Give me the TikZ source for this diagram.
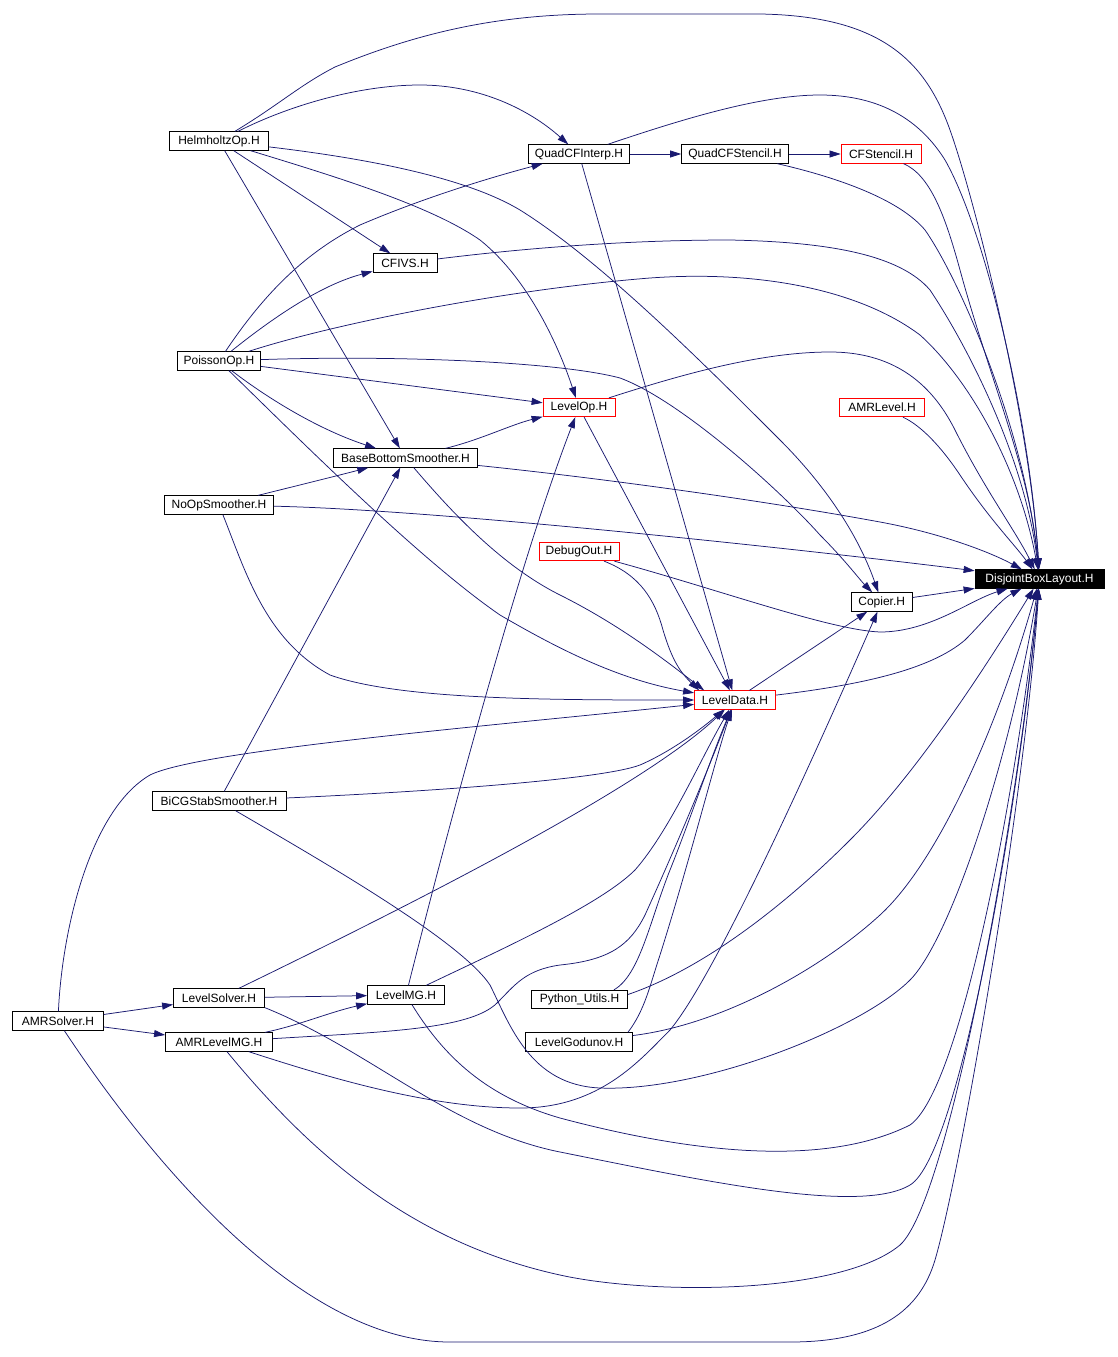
\documentclass[tikz,border=0pt]{standalone}
\usepackage{fontspec}
\setmainfont{Liberation Sans}
\usepackage{xcolor}
\usepackage{tikz}
\usetikzlibrary{arrows.meta}
\definecolor{edgeblue}{RGB}{25,25,112}

\begin{document}
\begin{tikzpicture}[
  x=1pt, y=-1pt,
  file/.style={draw, rectangle, inner sep=0pt, minimum height=18.5pt, line width=0.8pt, font=\fontsize{12}{14}\selectfont},
  incl/.style={draw=edgeblue, line width=0.75pt, -{Triangle[length=11pt,width=7pt]}}
]
\fill[white] (0,0) rectangle (1117,1357);
\useasboundingbox (0,0) rectangle (1117,1357);
\foreach \id/\x/\y/\w/\col/\lab in {
  helm/219/141/99/black/HelmholtzOp.H,
  quad/579/154/101/black/QuadCFInterp.H,
  qstencil/735/154/107/black/QuadCFStencil.H,
  cfstencil/881/154/80/red/CFStencil.H,
  cfivs/405/263/64/black/CFIVS.H,
  poisson/219/361/83/black/PoissonOp.H,
  levelop/579/407.5/72/red/LevelOp.H,
  amrlevel/882/407.5/85/red/AMRLevel.H,
  bbs/405.5/458/144/black/BaseBottomSmoother.H,
  noop/219/505/109/black/NoOpSmoother.H,
  debugout/579/551.5/80/red/DebugOut.H,
  copier/881.7/602/61/black/Copier.H,
  leveldata/735/700/81/red/LevelData.H,
  bicg/219/801/134/black/BiCGStabSmoother.H,
  lsolver/219/998/91/black/LevelSolver.H,
  levelmg/406/995/77/black/LevelMG.H,
  python/579.5/999.5/96/black/Python\_Utils.H,
  amrsolver/58/1021/91/black/AMRSolver.H,
  amrlvlmg/219/1042/107/black/AMRLevelMG.H,
  godunov/579/1042/107/black/LevelGodunov.H} {
  \node[file, draw=\col, minimum width=\w pt] (\id) at (\x,\y) {\lab};
}
\node[file, fill=black, text=white, minimum width=129pt] (dbl) at (1039.5,579) {DisjointBoxLayout.H};

\draw[incl] (helm) .. controls (280,104) and (300,85) .. (335,67) .. controls (420,32) and (500,14) .. (600,14) -- (760,14) .. controls (880,16) and (925,60) .. (950,130) .. controls (975,200) and (1030,420) .. (dbl);
\draw[incl] (helm) .. controls (290,105) and (360,85) .. (420,85) .. controls (480,85) and (530,110) .. (quad);
\draw[incl] (helm) -- (cfivs);
\draw[incl] (helm) .. controls (330,175) and (430,205) .. (480,240) .. controls (530,280) and (560,350) .. (levelop);
\draw[incl] (helm) -- (bbs);
\draw[incl] (helm) .. controls (380,160) and (470,180) .. (520,210) .. controls (600,260) and (700,360) .. (780,440) .. controls (830,490) and (860,540) .. (copier);
\draw[incl] (quad) -- (qstencil);
\draw[incl] (qstencil) -- (cfstencil);
\draw[incl] (quad) .. controls (680,120) and (760,95) .. (820,95) .. controls (880,95) and (920,120) .. (945,160) .. controls (985,230) and (1030,420) .. (dbl);
\draw[incl] (quad) -- (leveldata);
\draw[incl] (qstencil) .. controls (840,178) and (900,200) .. (925,230) .. controls (960,280) and (1025,430) .. (dbl);
\draw[incl] (cfstencil) .. controls (930,175) and (945,215) .. (960,270) .. controls (990,380) and (1030,470) .. (dbl);
\draw[incl] (cfivs) .. controls (550,245) and (650,240) .. (730,240) .. controls (830,242) and (900,255) .. (930,290) .. controls (970,350) and (1025,460) .. (dbl);
\draw[incl] (poisson) .. controls (260,300) and (300,255) .. (360,225) .. controls (430,195) and (500,175) .. (quad);
\draw[incl] (poisson) .. controls (270,320) and (320,285) .. (cfivs);
\draw[incl] (poisson) .. controls (330,325) and (500,290) .. (650,278) .. controls (760,270) and (860,290) .. (920,335) .. controls (970,380) and (1020,470) .. (dbl);
\draw[incl] (poisson) -- (levelop);
\draw[incl] (poisson) .. controls (270,400) and (320,430) .. (bbs);
\draw[incl] (poisson) .. controls (400,355) and (560,362) .. (620,378) .. controls (680,400) and (780,490) .. (820,535) .. controls (845,560) and (860,580) .. (copier);
\draw[incl] (poisson) .. controls (300,440) and (420,560) .. (500,615) .. controls (560,650) and (620,680) .. (leveldata);
\draw[incl] (levelop) .. controls (680,375) and (760,352) .. (830,352) .. controls (890,352) and (930,380) .. (955,430) .. controls (985,490) and (1015,530) .. (dbl);
\draw[incl] (levelop) -- (leveldata);
\draw[incl] (amrlevel) .. controls (920,425) and (940,445) .. (960,475) .. controls (990,520) and (1015,545) .. (dbl);
\draw[incl] (bbs) .. controls (480,440) and (510,425) .. (levelop);
\draw[incl] (bbs) .. controls (600,478) and (760,500) .. (880,522) .. controls (940,533) and (990,552) .. (dbl);
\draw[incl] (bbs) .. controls (450,510) and (500,565) .. (560,595) .. controls (620,625) and (665,660) .. ([xshift=10pt]leveldata.north west);
\draw[incl] (noop) .. controls (300,485) and (340,475) .. (bbs);
\draw[incl] (noop) .. controls (450,510) and (850,555) .. (dbl);
\draw[incl] (noop) .. controls (245,570) and (265,640) .. (330,675) .. controls (400,700) and (550,700) .. (leveldata);
\draw[incl] (debugout) .. controls (640,575) and (655,600) .. (663,630) .. controls (672,660) and (680,672) .. ([xshift=5pt]leveldata.north west);
\draw[incl] (debugout) .. controls (720,590) and (830,630) .. (880,632) .. controls (930,632) and (970,600) .. (dbl);
\draw[incl] (copier) -- (dbl);
\draw[incl] (leveldata) -- (copier);
\draw[incl] (leveldata) .. controls (860,685) and (930,670) .. (965,640) .. controls (985,620) and (1000,600) .. (dbl);
\draw[incl] (bicg) -- (bbs);
\draw[incl] (bicg) .. controls (420,792) and (600,780) .. (640,765) .. controls (670,752) and (700,730) .. (leveldata);
\draw[incl] (bicg) .. controls (320,860) and (460,940) .. (490,985) .. controls (510,1025) and (530,1085) .. (600,1088) .. controls (700,1092) and (860,1030) .. (910,980) .. controls (950,940) and (1010,760) .. (dbl);
\draw[incl] (lsolver) -- (levelmg);
\draw[incl] (lsolver) .. controls (400,910) and (640,790) .. (leveldata);
\draw[incl] (lsolver.south east) .. controls (370,1050) and (450,1130) .. (560,1152) .. controls (700,1180) and (860,1215) .. (910,1185) .. controls (960,1155) and (1020,800) .. (dbl);
\draw[incl] (levelmg) .. controls (450,820) and (520,560) .. (levelop);
\draw[incl] (levelmg) .. controls (500,950) and (600,905) .. (635,870) .. controls (670,830) and (700,760) .. (leveldata);
\draw[incl] (levelmg) .. controls (440,1050) and (480,1095) .. (560,1118) .. controls (680,1150) and (820,1170) .. (910,1125) .. controls (960,1090) and (1015,800) .. (dbl);
\draw[incl] ([xshift=-14pt]python.north east) .. controls (640,975) and (650,920) .. (670,870) .. controls (690,820) and (710,760) .. (leveldata);
\draw[incl] ([yshift=5pt]python.east) .. controls (700,970) and (780,910) .. (850,840) .. controls (920,770) and (990,660) .. (dbl);
\draw[incl] ([xshift=-5pt]godunov.north east) .. controls (645,1010) and (650,985) .. (660,955) .. controls (690,860) and (715,760) .. (leveldata);
\draw[incl] (godunov) .. controls (720,1025) and (820,970) .. (880,915) .. controls (940,860) and (1000,720) .. (dbl);
\draw[incl] (amrsolver) -- (lsolver);
\draw[incl] (amrsolver) -- (amrlvlmg);
\draw[incl] (amrsolver) .. controls (62,930) and (90,810) .. (150,775) .. controls (200,750) and (500,725) .. (leveldata);
\draw[incl] (amrsolver) .. controls (150,1160) and (300,1342) .. (450,1342) -- (790,1342) .. controls (880,1342) and (920,1310) .. (935,1260) .. controls (960,1175) and (1025,800) .. (dbl);
\draw[incl] (amrlvlmg) .. controls (300,1025) and (330,1012) .. (levelmg);
\draw[incl] (amrlvlmg) .. controls (380,1032) and (470,1030) .. (497,1003) .. controls (515,985) and (525,970) .. (560,965) .. controls (610,960) and (630,945) .. (645,915) .. controls (670,860) and (700,790) .. (leveldata);
\draw[incl] (amrlvlmg) .. controls (330,1078) and (430,1108) .. (520,1108) .. controls (600,1108) and (640,1060) .. (670,1030) .. controls (720,970) and (830,720) .. (copier);
\draw[incl] (amrlvlmg) .. controls (300,1140) and (400,1240) .. (560,1275) .. controls (650,1295) and (840,1295) .. (900,1245) .. controls (950,1200) and (1020,800) .. (dbl);
\end{tikzpicture}
\end{document}
